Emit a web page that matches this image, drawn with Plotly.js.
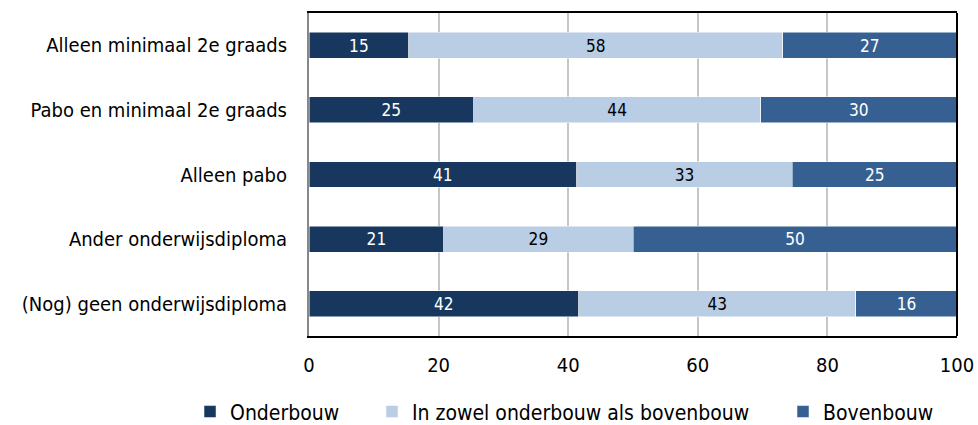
<!DOCTYPE html>
<html>
<head>
<meta charset="utf-8">
<script src="https://cdn.plot.ly/plotly-3.0.1.min.js"></script>
<style>
  html, body { margin: 0; padding: 0; background: #fff; }
  #chart { width: 978px; height: 425px; }
</style>
</head>
<body>
<div id="chart"></div>
<script>
// categories top to bottom as shown
const categories = [
  'Alleen minimaal 2e graads',
  'Pabo en minimaal 2e graads',
  'Alleen pabo',
  'Ander onderwijsdiploma',
  '(Nog) geen onderwijsdiploma'
];
const onderbouw = [15.4, 25.4, 41.3, 20.8, 41.6];
const beide = [57.7, 44.3, 33.3, 29.2, 42.8];
const bovenbouw = [26.9, 30.3, 25.4, 50.0, 15.6];

const seriesNames = ['Onderbouw', 'In zowel onderbouw als bovenbouw', 'Bovenbouw'];
const seriesColors = ['#17375e', '#b9cde5', '#376092'];
const textColors = ['#ffffff', '#000000', '#ffffff'];

const FONT = 'DejaVu Sans Condensed, DejaVu Sans, sans-serif';

// one legend per series so the entries can be spaced like the original
const legendIds = ['legend', 'legend2', 'legend3'];
const legendX = [-0.1836, 0.0972, 0.7315];

const data = [onderbouw, beide, bovenbouw].map((vals, i) => ({
  type: 'bar',
  orientation: 'h',
  name: seriesNames[i],
  legend: legendIds[i],
  x: vals,
  y: categories,
  marker: { color: seriesColors[i], line: { color: '#ffffff', width: 0.5 } },
  texttemplate: '%{x:.0f}',
  textposition: 'inside',
  insidetextanchor: 'middle',
  textangle: 0,
  insidetextfont: { family: FONT, size: 19, color: textColors[i] },
  hoverinfo: 'skip',
}));

const layout = {
  width: 978,
  height: 425,
  paper_bgcolor: '#ffffff',
  plot_bgcolor: '#ffffff',
  font: { family: FONT, size: 20, color: '#000000' },
  barmode: 'stack',
  bargap: 0.6,
  margin: { l: 309, r: 21, t: 13, b: 89, autoexpand: false },
  xaxis: {
    range: [0, 100],
    dtick: 20,
    showgrid: true,
    gridcolor: '#c6c6c6',
    gridwidth: 2,
    zeroline: false,
    showline: true,
    linecolor: '#000000',
    linewidth: 2,
    mirror: true,
    ticks: '',
    ticklabelstandoff: 10,
    tickfont: { family: FONT, size: 20, color: '#000000' },
  },
  yaxis: {
    autorange: 'reversed',
    showgrid: false,
    zeroline: false,
    showline: true,
    linecolor: '#888888',
    linewidth: 2,
    ticks: '',
    ticklabelstandoff: 16,
    tickfont: { family: FONT, size: 20, color: '#000000' },
  },
  shapes: [{
    type: 'line', xref: 'paper', yref: 'paper',
    x0: 1, x1: 1, y0: 0, y1: 1,
    line: { color: '#000000', width: 2 },
  }],
  showlegend: true,
};

legendIds.forEach((id, i) => {
  layout[id] = {
    orientation: 'h',
    x: legendX[i], xref: 'paper', xanchor: 'left',
    y: -0.235, yref: 'paper', yanchor: 'middle',
    font: { family: FONT, size: 21, color: '#000000' },
    itemwidth: 30,
    bgcolor: 'rgba(0,0,0,0)',
  };
});

Plotly.newPlot('chart', data, layout, { displayModeBar: false, staticPlot: true });
</script>
</body>
</html>
